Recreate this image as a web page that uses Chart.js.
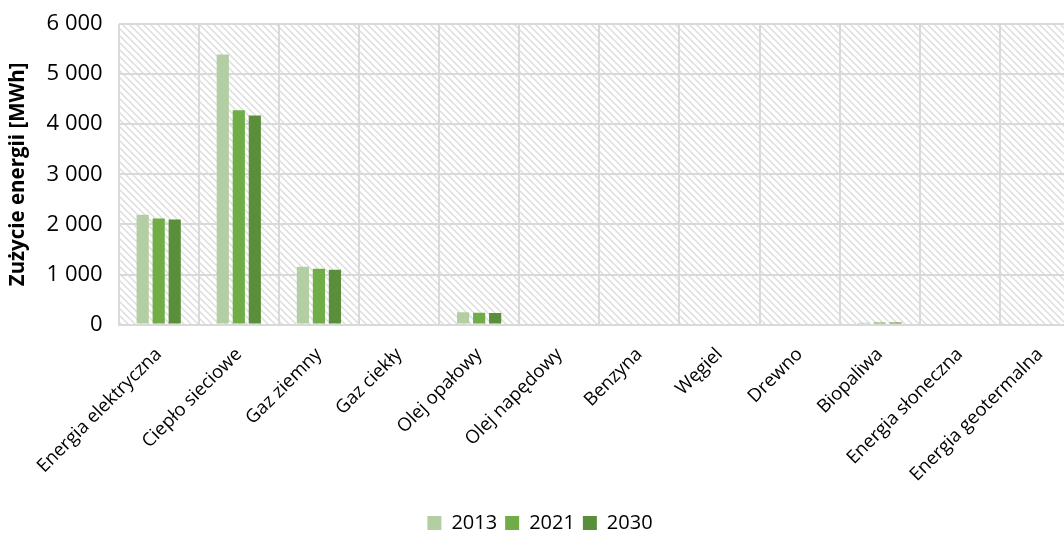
<!DOCTYPE html>
<html>
<head>
<meta charset="utf-8">
<script src="https://cdn.jsdelivr.net/npm/chart.js@4/dist/chart.umd.min.js"></script>
<style>
  body { margin: 0; overflow: hidden; background: #fff; }
  #wrap { width: 1080px; height: 534px; }
</style>
</head>
<body>
<div id="wrap"><canvas id="myChart"></canvas></div>
<script>
'use strict';

// categories and values
var categories = ['Energia elektryczna', 'Ciepło sieciowe', 'Gaz ziemny', 'Gaz ciekły', 'Olej opałowy',
  'Olej napędowy', 'Benzyna', 'Węgiel', 'Drewno', 'Biopaliwa', 'Energia słoneczna', 'Energia geotermalna'];
var years = ['2013', '2021', '2030'];
var values2013 = [2195, 5390, 1155, 0, 245, 0, 0, 0, 0, 35, 0, 0];
var values2021 = [2120, 4280, 1115, 0, 235, 0, 0, 0, 0, 42, 0, 0];
var values2030 = [2100, 4175, 1095, 0, 230, 0, 0, 0, 0, 42, 0, 0];
var yTicks = [0, 1000, 2000, 3000, 4000, 5000, 6000];
var colors = ['#b4cea4', '#70ad47', '#5b8e3b'];

// hatched plot background
function makePattern() {
  var c = document.createElement('canvas');
  c.width = 7; c.height = 7;
  var g = c.getContext('2d');
  g.strokeStyle = '#dcdcdc';
  g.lineWidth = 1.4;
  g.beginPath();
  g.moveTo(-1, -1); g.lineTo(8, 8);
  g.moveTo(-8, -1); g.lineTo(1, 8);
  g.moveTo(6, -1); g.lineTo(15, 8);
  g.stroke();
  return g.createPattern(c, 'repeat');
}

var hatch = {
  id: 'hatch',
  beforeDraw: function (chart) {
    var a = chart.chartArea;
    var ctx = chart.ctx;
    ctx.save();
    ctx.fillStyle = makePattern();
    ctx.fillRect(a.left, a.top, a.right - a.left, a.bottom - a.top);
    ctx.restore();
  }
};

function fmt(v) {
  return String(v).replace(/\B(?=(\d{3})+(?!\d))/g, ' ');
}

var ctx = document.getElementById('myChart').getContext('2d');

var myChart = new Chart(ctx, {
  type: 'bar',
  data: {
    labels: categories,
    datasets: [
      { label: years[0], data: values2013, backgroundColor: colors[0] },
      { label: years[1], data: values2021, backgroundColor: colors[1] },
      { label: years[2], data: values2030, backgroundColor: colors[2] }
    ]
  },
  options: {
    responsive: true,
    maintainAspectRatio: false,
    animation: false,
    layout: { padding: { left: 0, right: 0, top: 24, bottom: -9 } },
    datasets: { bar: { categoryPercentage: 0.6, barPercentage: 0.76 } },
    plugins: {
      tooltip: { enabled: false },
      legend: {
        position: 'bottom',
        labels: {
          color: '#000',
          font: { family: 'Open Sans', size: 20 },
          boxWidth: 14, boxHeight: 14, padding: 8
        }
      }
    },
    scales: {
      x: {
        grid: { color: '#d9d9d9', lineWidth: 2, drawTicks: false, offset: true },
        border: { color: '#d9d9d9', width: 2 },
        ticks: {
          color: '#000',
          font: { family: 'Open Sans', size: 18.5 },
          maxRotation: 45, minRotation: 45,
          padding: 19,
          autoSkip: false
        }
      },
      y: {
        min: 0, max: 6000,
        afterBuildTicks: function (axis) {
          axis.ticks = yTicks.map(function (v) { return { value: v }; });
        },
        grid: { color: '#d9d9d9', lineWidth: 2, drawTicks: false },
        border: { display: false },
        ticks: {
          color: '#000',
          font: { family: 'Open Sans', size: 22, lineHeight: 0.5 },
          padding: 16,
          callback: function (v) { return fmt(v); }
        },
        title: {
          display: true,
          text: 'Zużycie energii [MWh]',
          color: '#000',
          font: { family: 'Open Sans', size: 20.5, weight: 'bold' },
          padding: { top: 6, bottom: 0 }
        }
      }
    }
  },
  plugins: [hatch]
});
</script>
</body>
</html>
